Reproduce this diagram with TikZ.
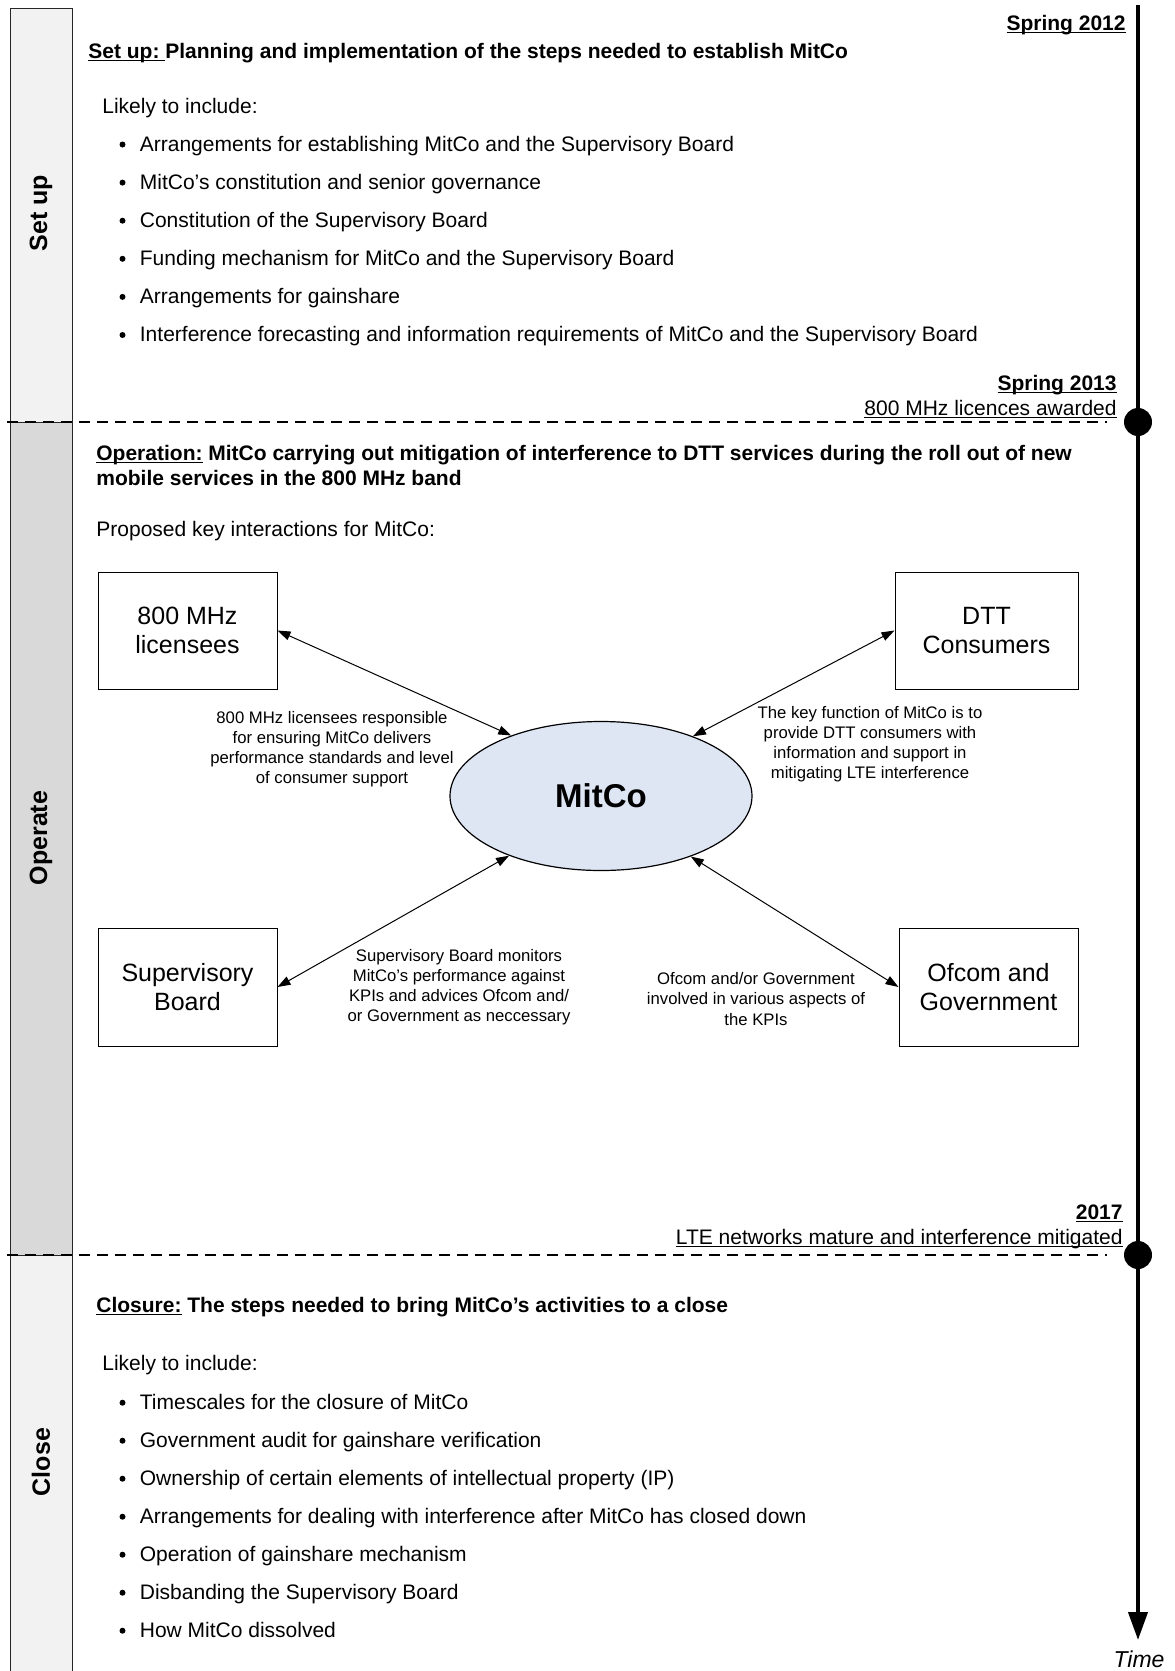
\documentclass[tikz,border=0pt]{standalone}
\usepackage{fontspec}
\setmainfont{Liberation Sans}
\usetikzlibrary{shapes.geometric,arrows.meta}
\definecolor{barlight}{HTML}{F2F2F2}
\definecolor{bardark}{HTML}{D9D9D9}
\definecolor{mitcofill}{HTML}{DEE6F4}
\newcommand\myul[1]{\setbox0\hbox{#1}\rlap{\rule[-1.4pt]{\wd0}{0.65pt}}\box0\relax}
\begin{document}
\begin{tikzpicture}[x=0.5pt,y=-0.5pt,
  txt/.style={inner sep=0pt, text height=0.72em, text depth=0pt, font=\fontsize{10.5}{12.5}\selectfont},
  itemtxt/.style={txt, anchor=west},
  bul/.style={circle, fill=black, inner sep=0pt, minimum size=3pt},
  rightlbl/.style={txt, anchor=east},
  barlbl/.style={inner sep=0pt, rotate=90, font=\fontsize{12.5}{14}\selectfont\bfseries},
  boxnode/.style={draw, line width=0.5pt, align=center, inner sep=2pt, font=\fontsize{12.5}{14.75}\selectfont},
  edgelbl/.style={align=center, inner sep=0pt, font=\fontsize{8.35}{10.1}\selectfont},
  conn/.style={line width=0.5pt, {Triangle[length=6.5pt,width=4.5pt]}-{Triangle[length=6.5pt,width=4.5pt]}},
  dashline/.style={line width=0.6pt, dash pattern=on 5.5pt off 3.5pt},
  tldot/.style={circle, fill=black, inner sep=0pt, minimum size=14pt},
]
\useasboundingbox (0,0) rectangle (1174,1671);

% phase bar
\path[draw=black!85, line width=0.5pt, fill=barlight] (10,8) rectangle (72,422);
\path[draw=black!85, line width=0.5pt, fill=bardark] (10,422) rectangle (72,1255);
\path[draw=black!85, line width=0.5pt, fill=barlight] (10,1255) rectangle (72,1690);
\node[barlbl] (lsetup) at (41,213) {Set up};
\node[barlbl] (loperate) at (41,838) {Operate};
\node[barlbl] (lclose) at (41,1462) {Close};

% dashed phase separators
\coordinate (d1s) at (7,422); \coordinate (d1e) at (1107,422);
\coordinate (d2s) at (7,1255); \coordinate (d2e) at (1107,1255);
\draw[dashline] (d1s) -- (d1e);
\draw[dashline] (d2s) -- (d2e);

% timeline
\coordinate (tltop) at (1138,5);
\coordinate (tlend) at (1138,1640);
\draw[line width=2pt, -{Triangle[length=14pt,width=9.5pt]}] (tltop) -- (tlend);
\node[tldot] (dot1) at (1138,422) {};
\node[tldot] (dot2) at (1138,1255) {};
\node[inner sep=0pt, font=\fontsize{11.5}{13}\selectfont\itshape] (time) at (1139,1659) {Time};

% milestone labels
\node[rightlbl, font=\fontsize{10.5}{12.5}\selectfont\bfseries] (m2012) at (1126,23) {\myul{Spring 2012}};
\node[rightlbl, font=\fontsize{10.5}{12.5}\selectfont\bfseries] (m2013) at (1117,383) {\myul{Spring 2013}};
\node[rightlbl] (m2013b) at (1117,408) {\myul{800 MHz licences awarded}};
\node[rightlbl, font=\fontsize{10.5}{12.5}\selectfont\bfseries] (m2017) at (1123,1212) {\myul{2017}};
\node[rightlbl] (m2017b) at (1123,1237) {\myul{LTE networks mature and interference mitigated}};

% set up section
\node[itemtxt, font=\fontsize{10.5}{12.5}\selectfont\bfseries] (suhead) at (88,51) {\myul{Set up:\ }Planning and implementation of the steps needed to establish MitCo};
\node[itemtxt] (sulikely) at (102,106.5) {Likely to include:};
\foreach \t [count=\i from 0] in {
  Arrangements for establishing MitCo and the Supervisory Board,
  MitCo’s constitution and senior governance,
  Constitution of the Supervisory Board,
  Funding mechanism for MitCo and the Supervisory Board,
  Arrangements for gainshare,
  Interference forecasting and information requirements of MitCo and the Supervisory Board}{
  \node[bul] (sbul\i) at (122.5,{144.5+38.1*\i}) {};
  \node[itemtxt] (sitem\i) at (139.5,{143.8+38.1*\i}) {\t};
}

% operate section
\node[itemtxt, font=\fontsize{10.5}{12.5}\selectfont\bfseries] (ophead1) at (96,453) {\myul{Operation:} MitCo carrying out mitigation of interference to DTT services during the roll out of new};
\node[itemtxt, font=\fontsize{10.5}{12.5}\selectfont\bfseries] (ophead2) at (96,478) {mobile services in the 800 MHz band};
\node[itemtxt] (oppro) at (96,529) {Proposed key interactions for MitCo:};

\node[boxnode, minimum width=89.5pt, minimum height=58.5pt] (b800) at (187.5,630.5) {800 MHz\\licensees};
\node[boxnode, minimum width=91.5pt, minimum height=58.5pt] (bdtt) at (986.5,630.5) {DTT\\Consumers};
\node[boxnode, minimum width=89.5pt, minimum height=59pt] (bsup) at (187.5,987) {Supervisory\\Board};
\node[boxnode, minimum width=89.5pt, minimum height=59pt] (bofc) at (988.5,987) {Ofcom and\\Government};

\node[ellipse, draw, line width=0.6pt, fill=mitcofill, inner sep=0pt, minimum width=151pt, minimum height=74.5pt, font=\fontsize{16.5}{18}\selectfont\bfseries] (mitco) at (601,796) {MitCo};

\draw[conn] (b800.east) -- (mitco.146.5);
\draw[conn] (bdtt.west) -- (mitco.33);
\draw[conn] (bsup.east) -- (mitco.213);
\draw[conn] (bofc.west) -- (mitco.-34);

\node[edgelbl] (l800) at (332,749) {800 MHz licensees responsible\\for ensuring MitCo delivers\\performance standards and level\\of consumer support};
\node[edgelbl] (ldtt) at (870,744) {The key function of MitCo is to\\provide DTT consumers with\\information and support in\\mitigating LTE interference};
\node[edgelbl] (lsup) at (459,987) {Supervisory Board monitors\\MitCo’s performance against\\KPIs and advices Ofcom and/\\or Government as neccessary};
\node[edgelbl] (lofc) at (756,999) {Ofcom and/or Government\\involved in various aspects of\\the KPIs};

% closure section
\node[itemtxt, font=\fontsize{10.5}{12.5}\selectfont\bfseries] (clhead) at (96,1305) {\myul{Closure:} The steps needed to bring MitCo’s activities to a close};
\node[itemtxt] (cllikely) at (102,1363.6) {Likely to include:};
\foreach \t [count=\i from 0] in {
  Timescales for the closure of MitCo,
  Government audit for gainshare verification,
  Ownership of certain elements of intellectual property (IP),
  Arrangements for dealing with interference after MitCo has closed down,
  Operation of gainshare mechanism,
  Disbanding the Supervisory Board,
  How MitCo dissolved}{
  \node[bul] (cbul\i) at (122.5,{1402.7+38*\i}) {};
  \node[itemtxt] (citem\i) at (139.5,{1402+38*\i}) {\t};
}
\end{tikzpicture}
\end{document}
